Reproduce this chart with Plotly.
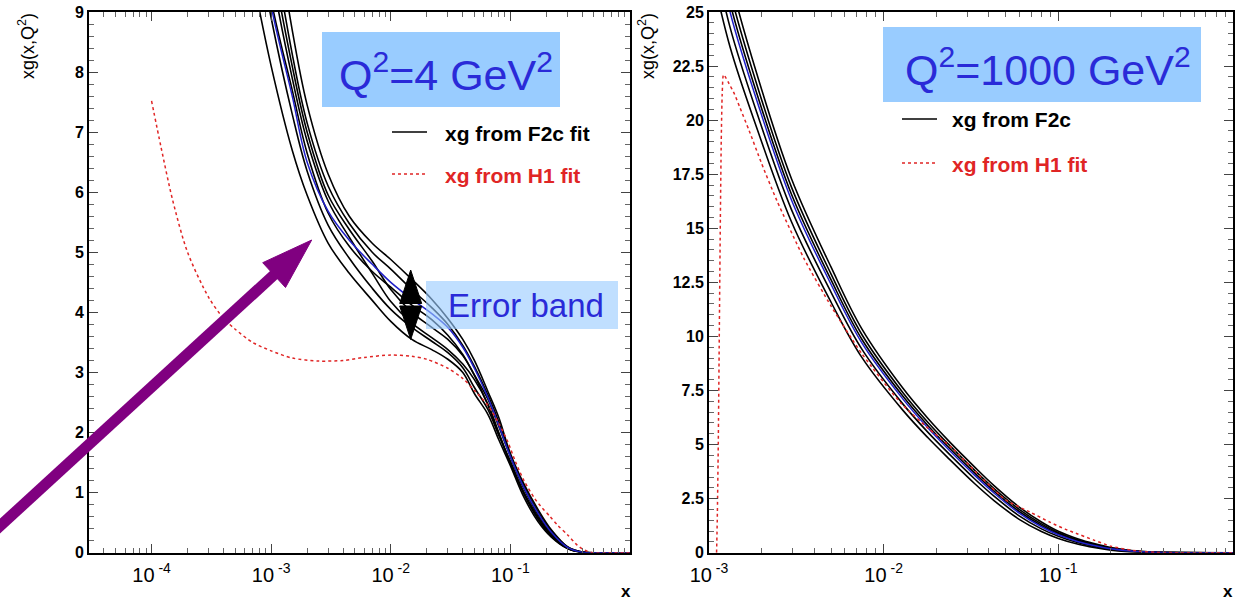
import plotly.graph_objects as go

W, H = 1244, 600

# ---------------- Q^2 = 4 GeV^2 (left panel) ----------------
x_fit_lo = [7e-4, 1e-3, 1.5e-3, 2e-3, 3e-3, 4.5e-3, 7e-3, 1e-2, 1.5e-2, 2.2e-2, 3e-2, 4e-2,
            5e-2, 6.5e-2, 8e-2, 0.1, 0.13, 0.17, 0.22, 0.3, 0.4, 0.6, 1.0]
xg_central_lo = [11.0, 9.1, 7.6, 6.5, 5.68, 5.2, 4.8, 4.5, 4.22, 3.98, 3.75, 3.42,
                 3.07, 2.58, 2.12, 1.6, 1.08, 0.66, 0.34, 0.09, 0.008, 0.0, 0.0]
xg_band_lo_1 = [9.6, 8.1, 6.7, 5.95, 5.15, 4.65, 4.2, 3.85, 3.55, 3.38, 3.22, 3.0,
                2.65, 2.3, 1.88, 1.45, 0.92, 0.52, 0.26, 0.07, 0.006, 0.0, 0.0]
xg_band_lo_2 = [10.6, 8.9, 7.3, 6.35, 5.45, 4.9, 4.4, 4.05, 3.75, 3.52, 3.33, 3.08,
                2.75, 2.38, 1.95, 1.52, 0.98, 0.56, 0.28, 0.075, 0.007, 0.0, 0.0]
xg_band_lo_3 = [12.0, 9.7, 7.9, 6.85, 5.85, 5.25, 4.65, 4.18, 3.82, 3.58, 3.38, 3.14,
                2.88, 2.47, 2.0, 1.5, 1.0, 0.6, 0.3, 0.08, 0.007, 0.0, 0.0]
xg_band_lo_4 = [12.5, 10.0, 8.1, 7.0, 5.95, 5.38, 4.85, 4.38, 4.0, 3.75, 3.55, 3.28,
                2.96, 2.55, 2.1, 1.6, 1.06, 0.64, 0.33, 0.085, 0.008, 0.0, 0.0]
xg_band_lo_5 = [13.0, 10.4, 8.3, 7.15, 6.1, 5.48, 5.0, 4.72, 4.38, 4.08, 3.8, 3.45,
                3.1, 2.62, 2.18, 1.62, 1.1, 0.68, 0.36, 0.095, 0.009, 0.0, 0.0]
xg_band_lo_6 = [14.0, 11.0, 8.7, 7.45, 6.3, 5.6, 5.15, 4.88, 4.55, 4.22, 3.9, 3.55,
                3.2, 2.68, 2.25, 1.65, 1.14, 0.72, 0.38, 0.1, 0.01, 0.0, 0.0]
xg_band_lo_7 = [11.3, 9.2, 7.7, 6.65, 5.65, 5.1, 4.68, 4.42, 4.12, 3.88, 3.62, 3.3,
                2.95, 2.45, 1.98, 1.48, 0.98, 0.57, 0.28, 0.075, 0.006, 0.0, 0.0]

x_h1_lo = [1e-4, 1.2e-4, 1.5e-4, 2e-4, 3e-4, 4e-4, 5e-4, 7e-4, 1e-3, 1.5e-3, 2.5e-3, 4e-3,
           6e-3, 1e-2, 1.5e-2, 2e-2, 3e-2, 4e-2, 5e-2, 6.5e-2, 8e-2, 9.5e-2, 0.11, 0.13,
           0.16, 0.178, 0.215, 0.25, 0.3, 0.36, 0.42, 0.49, 0.7, 1.0]
xg_h1_lo = [7.52, 6.75, 5.87, 5.0, 4.25, 3.9, 3.72, 3.5, 3.36, 3.24, 3.19, 3.2,
            3.25, 3.29, 3.27, 3.22, 3.07, 2.9, 2.7, 2.45, 2.15, 1.85, 1.52, 1.2,
            0.9, 0.78, 0.6, 0.45, 0.3, 0.13, 0.04, 0.0, 0.0, 0.0]

# ---------------- Q^2 = 1000 GeV^2 (right panel) ----------------
x_fit_hi = [1e-3, 1.32e-3, 1.88e-3, 2.97e-3, 5e-3, 7.5e-3, 0.0129, 0.018, 0.024, 0.033,
            0.043, 0.06, 0.08, 0.1, 0.13, 0.16, 0.2, 0.27, 0.35, 0.5, 1.0]
xg_central_hi = [29.5, 25.0, 20.9, 16.3, 12.4, 9.7, 7.1, 5.75, 4.7, 3.6,
                 2.75, 1.82, 1.2, 0.83, 0.51, 0.33, 0.18, 0.063, 0.018, 0.002, 0.0]
xg_band_hi_1 = [27.48, 23.38, 19.63, 15.29, 11.58, 9.03, 6.58, 5.3, 4.29, 3.21,
                2.4, 1.53, 0.98, 0.66, 0.39, 0.24, 0.12, 0.033, 0.005, 0.0, 0.0]
xg_band_hi_2 = [28.61, 24.29, 20.34, 15.85, 12.04, 9.41, 6.87, 5.55, 4.52, 3.43,
                2.6, 1.69, 1.1, 0.756, 0.456, 0.29, 0.153, 0.05, 0.012, 0.001, 0.0]
xg_band_hi_3 = [30.01, 25.41, 21.22, 16.56, 12.61, 9.87, 7.23, 5.86, 4.805, 3.7,
                2.838, 1.893, 1.256, 0.872, 0.541, 0.353, 0.195, 0.071, 0.021, 0.002, 0.0]
xg_band_hi_4 = [30.68, 25.94, 21.64, 16.89, 12.88, 10.09, 7.4, 6.01, 4.94, 3.83,
                2.95, 1.99, 1.33, 0.927, 0.581, 0.383, 0.215, 0.081, 0.025, 0.003, 0.0]
xg_band_hi_5 = [31.47, 26.57, 22.13, 17.28, 13.2, 10.35, 7.6, 6.19, 5.1, 3.98,
                3.09, 2.1, 1.42, 0.99, 0.63, 0.419, 0.239, 0.093, 0.03, 0.0035, 0.0]

x_h1_hi = [1.105e-3, 1.115e-3, 1.13e-3, 1.145e-3, 1.16e-3, 1.175e-3, 1.19e-3, 1.21e-3,
           1.24e-3, 1.3e-3, 1.4e-3, 1.5e-3, 1.7e-3, 2.0e-3, 2.44e-3, 3.5e-3, 5e-3, 7.5e-3,
           1.26e-2, 1.8e-2, 2.46e-2, 3.5e-2, 5e-2, 7e-2, 9e-2, 0.11, 0.126, 0.16, 0.2,
           0.26, 0.3, 0.36, 0.5, 1.0]
xg_h1_hi = [0.0, 1.5, 5.0, 10.0, 15.0, 19.0, 21.2, 22.1,
            22.0, 21.7, 21.2, 20.6, 19.5, 18.0, 16.3, 13.6, 11.4, 9.2,
            6.9, 5.75, 4.85, 3.6, 2.44, 1.85, 1.4, 1.08, 0.9, 0.58, 0.3,
            0.12, 0.06, 0.015, 0.0, 0.0]

# axis tick labels
decade_vals_lo = [1e-4, 1e-3, 1e-2, 1e-1]
decade_text_lo = ["10<sup> -4</sup>", "10<sup> -3</sup>", "10<sup> -2</sup>", "10<sup> -1</sup>"]
decade_vals_hi = [1e-3, 1e-2, 1e-1]
decade_text_hi = ["10<sup> -3</sup>", "10<sup> -2</sup>", "10<sup> -1</sup>"]

BLACK = "#000000"
BLUE = "#2020c8"
RED = "#e02525"
PURPLE = "#800080"
BOX_BLUE = "rgb(153,204,255)"
TXT_BLUE = "#2a2ad8"


def px(x):
    return x / W


def py(y):
    return 1 - y / H


fig = go.Figure()

band_lo = [xg_band_lo_1, xg_band_lo_2, xg_band_lo_3, xg_band_lo_4,
           xg_band_lo_5, xg_band_lo_6, xg_band_lo_7]
for yv in band_lo:
    fig.add_trace(go.Scatter(x=x_fit_lo, y=yv, mode="lines", xaxis="x", yaxis="y",
                             line=dict(color=BLACK, width=1.6, shape="spline", smoothing=1.0),
                             hoverinfo="skip"))
fig.add_trace(go.Scatter(x=x_fit_lo, y=xg_central_lo, mode="lines", xaxis="x", yaxis="y",
                         line=dict(color=BLUE, width=1.5, shape="spline", smoothing=1.0)))
fig.add_trace(go.Scatter(x=x_h1_lo, y=xg_h1_lo, mode="lines", xaxis="x", yaxis="y",
                         line=dict(color=RED, width=1.5, dash="3px,3px", shape="spline",
                                   smoothing=0.8)))

band_hi = [xg_band_hi_1, xg_band_hi_2, xg_band_hi_3, xg_band_hi_4, xg_band_hi_5]
for yv in band_hi:
    fig.add_trace(go.Scatter(x=x_fit_hi, y=yv, mode="lines", xaxis="x2", yaxis="y2",
                             line=dict(color=BLACK, width=1.6, shape="spline", smoothing=1.0),
                             hoverinfo="skip"))
fig.add_trace(go.Scatter(x=x_fit_hi, y=xg_central_hi, mode="lines", xaxis="x2", yaxis="y2",
                         line=dict(color=BLUE, width=1.5, shape="spline", smoothing=1.0)))
fig.add_trace(go.Scatter(x=x_h1_hi, y=xg_h1_hi, mode="lines", xaxis="x2", yaxis="y2",
                         line=dict(color=RED, width=1.5, dash="3px,3px", shape="spline",
                                   smoothing=0.6)))

xaxis_common = dict(
    type="log", showline=True, linecolor=BLACK, linewidth=2, mirror="ticks",
    ticks="inside", ticklen=9, tickwidth=1, tickcolor="#444444",
    showgrid=False, zeroline=False, automargin=False, ticklabelstandoff=3,
    tickfont=dict(family="Liberation Sans", size=20, color=BLACK),
    minor=dict(ticks="inside", ticklen=5, tickwidth=1, tickcolor="#666666",
               dtick="D1", showgrid=False),
)
yaxis_common = dict(
    showline=True, linecolor=BLACK, linewidth=2, mirror="ticks",
    ticks="inside", ticklen=9, tickwidth=1, tickcolor="#444444",
    showgrid=False, zeroline=False, automargin=False,
    tickfont=dict(family="Liberation Sans", size=16, color=BLACK, weight="bold"),
)

y_dom = [py(552.7), py(12)]

fig.update_layout(
    width=W, height=H, autosize=False,
    margin=dict(l=0, r=0, t=0, b=0, pad=0, autoexpand=False),
    paper_bgcolor="white", plot_bgcolor="white",
    showlegend=False,
    xaxis=dict(xaxis_common, domain=[px(89), px(630)], range=[-4.523, 0],
               tickmode="array", tickvals=decade_vals_lo, ticktext=decade_text_lo,
               anchor="y"),
    yaxis=dict(yaxis_common, domain=y_dom, range=[0, 9], dtick=1, tick0=0,
               minor=dict(ticks="inside", ticklen=5, tickwidth=1, tickcolor="#666666",
                          dtick=0.2, showgrid=False),
               anchor="x"),
    xaxis2=dict(xaxis_common, domain=[px(709), px(1233)], range=[-3, 0],
                tickmode="array", tickvals=decade_vals_hi, ticktext=decade_text_hi,
                anchor="y2"),
    yaxis2=dict(yaxis_common, domain=y_dom, range=[0, 25], dtick=2.5, tick0=0,
                minor=dict(ticks="inside", ticklen=5, tickwidth=1, tickcolor="#666666",
                           dtick=0.5, showgrid=False),
                anchor="x2"),
)

shapes = []
annotations = []

# axis titles
for xc in (27, 647):
    annotations.append(dict(xref="paper", yref="paper", x=px(xc), y=py(11),
                            xanchor="center", yanchor="top", textangle=-90,
                            text="xg(x,Q<sup>2</sup>)", showarrow=False,
                            font=dict(family="Liberation Sans", size=18, color=BLACK)))
for xc in (626, 1228):
    annotations.append(dict(xref="paper", yref="paper", x=px(xc), y=py(591),
                            xanchor="center", yanchor="middle", text="<b>x</b>",
                            showarrow=False,
                            font=dict(family="Liberation Sans", size=17, color=BLACK)))

# Q^2 boxes
QFONT = "Liberation Sans"
shapes.append(dict(type="rect", xref="paper", yref="paper", x0=px(322), x1=px(560),
                   y0=py(107), y1=py(32), fillcolor=BOX_BLUE, line=dict(width=0),
                   layer="above"))
annotations.append(dict(xref="paper", yref="paper", x=px(446), y=py(72),
                        xanchor="center", yanchor="middle", showarrow=False,
                        text="Q<sup>2</sup>=4 GeV<sup>2</sup>",
                        font=dict(family=QFONT, size=43, color=TXT_BLUE)))
shapes.append(dict(type="rect", xref="paper", yref="paper", x0=px(883), x1=px(1201),
                   y0=py(102), y1=py(27), fillcolor=BOX_BLUE, line=dict(width=0),
                   layer="above"))
annotations.append(dict(xref="paper", yref="paper", x=px(1048), y=py(67),
                        xanchor="center", yanchor="middle", showarrow=False,
                        text="Q<sup>2</sup>=1000 GeV<sup>2</sup>",
                        font=dict(family=QFONT, size=43, color=TXT_BLUE)))

# legends
def legend_entry(x0, x1, yline, xtext, text, color, dash):
    shapes.append(dict(type="line", xref="paper", yref="paper", x0=px(x0), x1=px(x1),
                       y0=py(yline), y1=py(yline), layer="above",
                       line=dict(color=color, width=1.5, dash=dash)))
    annotations.append(dict(xref="paper", yref="paper", x=px(xtext), y=py(yline + 1),
                            xanchor="left", yanchor="middle", showarrow=False,
                            text="<b>" + text + "</b>",
                            font=dict(family="Liberation Sans", size=21, color=color)))


legend_entry(392, 427, 132, 443, "xg from F2c fit", BLACK, "solid")
legend_entry(392, 427, 174, 443, "xg from H1 fit", RED, "3px,3px")
legend_entry(902, 937, 119, 950, "xg from F2c", BLACK, "solid")
legend_entry(902, 937, 163, 950, "xg from H1 fit", RED, "3px,3px")

# "Error band" label with translucent box
shapes.append(dict(type="rect", xref="paper", yref="paper", x0=px(426), x1=px(618),
                   y0=py(329), y1=py(281), fillcolor="rgba(153,204,255,0.62)",
                   line=dict(width=0), layer="above"))
annotations.append(dict(xref="paper", yref="paper", x=px(526), y=py(305),
                        xanchor="center", yanchor="middle", showarrow=False,
                        text="Error band",
                        font=dict(family="Liberation Sans", size=33, color=TXT_BLUE)))

# double-headed black arrow across the band
def tri(p1, p2, p3, color):
    path = "M {} {} L {} {} L {} {} Z".format(px(p1[0]), py(p1[1]), px(p2[0]), py(p2[1]),
                                             px(p3[0]), py(p3[1]))
    shapes.append(dict(type="path", xref="paper", yref="paper", path=path,
                       fillcolor=color, line=dict(color=color, width=1), layer="above"))


tri((410.7, 270), (399.7, 303.5), (421.7, 303.5), BLACK)
tri((410.7, 339.5), (399.7, 306), (421.7, 306), BLACK)

# purple pointer arrow
shapes.append(dict(type="line", xref="paper", yref="paper", x0=px(-6), y0=py(531.5),
                   x1=px(276), y1=py(273), layer="above",
                   line=dict(color=PURPLE, width=11)))
tri((311.7, 240), (262.7, 262.7), (285.5, 287.5), PURPLE)

fig.update_layout(shapes=shapes, annotations=annotations)

fig.write_html("out.html")
